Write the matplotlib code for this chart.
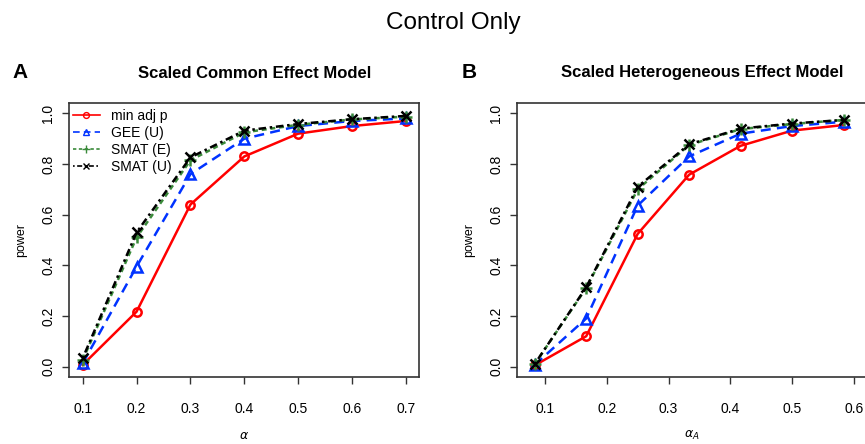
import matplotlib
matplotlib.use("Agg")
import matplotlib.pyplot as plt
from matplotlib.lines import Line2D

plt.rcParams['font.family'] = ['Liberation Sans', 'DejaVu Sans']

series_names = ["min adj p", "GEE (U)", "SMAT (E)", "SMAT (U)"]

alpha_A = [0.1, 0.2, 0.3, 0.4, 0.5, 0.6, 0.7]
power_A = {
    "min adj p": [0.007, 0.217, 0.64, 0.83, 0.92, 0.95, 0.97],
    "GEE (U)":   [0.013, 0.395, 0.76, 0.90, 0.95, 0.97, 0.98],
    "SMAT (E)":  [0.026, 0.51, 0.815, 0.925, 0.955, 0.976, 0.987],
    "SMAT (U)":  [0.033, 0.53, 0.826, 0.932, 0.958, 0.977, 0.99],
}

alpha_B = [1/12, 2/12, 3/12, 4/12, 5/12, 6/12, 7/12]
power_B = {
    "min adj p": [0.005, 0.12, 0.524, 0.758, 0.872, 0.932, 0.954],
    "GEE (U)":   [0.007, 0.19, 0.636, 0.83, 0.92, 0.95, 0.967],
    "SMAT (E)":  [0.01, 0.31, 0.70, 0.875, 0.938, 0.958, 0.974],
    "SMAT (U)":  [0.01, 0.313, 0.71, 0.878, 0.94, 0.96, 0.974],
}

xticks_A = [0.1, 0.2, 0.3, 0.4, 0.5, 0.6, 0.7]
xticks_B = [0.1, 0.2, 0.3, 0.4, 0.5, 0.6]
yticks = [0.0, 0.2, 0.4, 0.6, 0.8, 1.0]

styles = {
    "min adj p": dict(color="#ff0000", ls="-", marker="o", mfc="none", ms=6, mew=1.8),
    "GEE (U)":   dict(color="#0033ff", ls=(0, (4, 2.5)), marker="^", mfc="none", ms=7, mew=1.8),
    "SMAT (E)":  dict(color="#3a8a3a", ls=(0, (2, 1.5)), marker="+", ms=8, mew=1.8),
    "SMAT (U)":  dict(color="#000000", ls=(0, (1, 1.5, 3, 1.5)), marker="x", ms=7, mew=1.8),
}

fig = plt.figure(figsize=(8.65, 4.44), dpi=100)
W, H = 865, 444

def add_ax(l, t, r, b):
    return fig.add_axes([l / W, 1 - b / H, (r - l) / W, (b - t) / H])

axA = add_ax(69, 103, 419, 377)
axB = add_ax(517, 103, 867, 377)

for ax, xs, data, xlim, xticks in [
    (axA, alpha_A, power_A, (0.0746, 0.7242), xticks_A),
    (axB, alpha_B, power_B, (0.0547, 0.6212), xticks_B),
]:
    for name in series_names:
        st = styles[name]
        ax.plot(xs, data[name], lw=1.8, label=name, **st)
    ax.set_xlim(*xlim)
    ax.set_ylim(-0.041, 1.041)
    ax.set_xticks(xticks)
    ax.set_xticklabels([f"{v:.1f}" for v in xticks])
    ax.set_yticks(yticks)
    ax.set_yticklabels([f"{v:.1f}" for v in yticks], rotation=90, va="center")
    ax.tick_params(axis="x", direction="out", length=5, width=1, labelsize=10, pad=13, color="#333333")
    ax.tick_params(axis="y", direction="out", length=5, width=1, labelsize=10, pad=5, color="#333333")
    for s in ax.spines.values():
        s.set_linewidth(1.2)
        s.set_color("#333333")
    ax.set_ylabel("power", fontsize=9, labelpad=10)

axA.set_xlabel(r"$\alpha$", fontsize=9, labelpad=10)
axB.set_xlabel(r"$\alpha_A$", fontsize=9, labelpad=9)

handles = []
for name in series_names:
    st = dict(styles[name])
    st["ms"] = st["ms"] * 0.7
    st["mew"] = 1.0
    handles.append(Line2D([], [], lw=1.2, **st))
leg = axA.legend(handles, series_names, loc="upper left", frameon=False, fontsize=10,
                 handlelength=1.9, borderaxespad=0.0, borderpad=0.3,
                 labelspacing=0.22, handletextpad=0.8, bbox_to_anchor=(0.0, 0.995))

fig.text(453 / W, 1 - 23 / H, "Control Only", ha="center", va="center", fontsize=17.5)
fig.text(20.5 / W, 1 - 73 / H, "A", ha="center", va="center", fontsize=15, fontweight="bold")
fig.text(469.5 / W, 1 - 73 / H, "B", ha="center", va="center", fontsize=15, fontweight="bold")
fig.text(255 / W, 1 - 73 / H, "Scaled Common Effect Model", ha="center", va="center", fontsize=12, fontweight="bold")
fig.text(702 / W, 1 - 73 / H, "Scaled Heterogeneous Effect Model", ha="center", va="center", fontsize=12, fontweight="bold")

fig.savefig("out.png", dpi=100)
